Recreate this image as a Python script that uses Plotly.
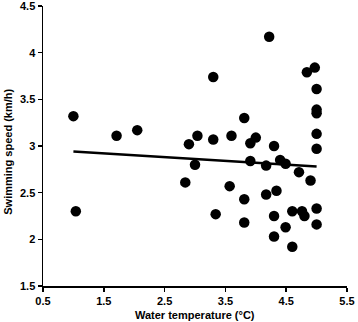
import plotly.graph_objects as go

# Observed data (water temperature °C, swimming speed km/h)
temperature = [1.00, 1.04, 1.71, 2.05, 2.84, 2.90, 3.04, 3.00, 3.30, 3.30, 3.34,
               3.57, 3.60, 3.81, 3.81, 3.81, 3.91, 3.91, 4.00, 4.17, 4.17, 4.22,
               4.30, 4.34, 4.30, 4.30, 4.40, 4.49, 4.49, 4.60, 4.60, 4.71, 4.76,
               4.80, 4.90, 4.84, 4.97, 5.00, 5.00, 5.00, 5.00, 5.00, 5.00, 5.00]
speed = [3.32, 2.30, 3.11, 3.17, 2.61, 3.02, 3.11, 2.80, 3.74, 3.07, 2.27,
         2.57, 3.11, 3.30, 2.43, 2.18, 2.84, 3.03, 3.09, 2.79, 2.48, 4.17,
         3.00, 2.52, 2.25, 2.03, 2.85, 2.81, 2.13, 2.30, 1.92, 2.72, 2.30,
         2.25, 2.63, 3.79, 3.84, 3.61, 3.39, 3.35, 3.13, 2.97, 2.33, 2.16]

# Linear trend line endpoints
trend_x = [1.0, 5.0]
trend_y = [2.94, 2.78]

x_ticks = [0.5, 1.5, 2.5, 3.5, 4.5, 5.5]
x_tick_labels = ["0.5", "1.5", "2.5", "3.5", "4.5", "5.5"]
y_ticks = [1.5, 2.0, 2.5, 3.0, 3.5, 4.0, 4.5]
y_tick_labels = ["1.5", "2", "2.5", "3", "3.5", "4", "4.5"]
x_title = "Water temperature (°C)"
y_title = "Swimming speed (km/h)"

FONT = "Liberation Sans, Arial, sans-serif"

fig = go.Figure()
fig.add_trace(go.Scatter(
    x=temperature, y=speed, mode="markers",
    marker=dict(size=10.5, color="black", line=dict(width=0)),
    showlegend=False, cliponaxis=False,
))
fig.add_trace(go.Scatter(
    x=trend_x, y=trend_y, mode="lines",
    line=dict(color="black", width=2.5),
    showlegend=False,
))

axis_common = dict(
    showgrid=False, zeroline=False, showline=True, linecolor="black", linewidth=1.5,
    ticks="outside", ticklen=4, tickwidth=1.5, tickcolor="black",
    tickfont=dict(family=FONT, size=11, color="black"),
    ticklabeloverflow="allow",
    automargin=False,
)

fig.update_layout(
    width=358, height=322,
    margin=dict(l=43, r=11, t=6, b=36, autoexpand=False),
    paper_bgcolor="white", plot_bgcolor="white",
    font=dict(family=FONT, size=11, color="black"),
    xaxis=dict(range=[0.5, 5.5], tickvals=x_ticks,
               ticktext=[f"<b>{t}</b>" for t in x_tick_labels], **axis_common),
    yaxis=dict(range=[1.5, 4.5], tickvals=y_ticks,
               ticktext=[f"<b>{t}</b>" for t in y_tick_labels], **axis_common),
    annotations=[
        dict(text=f"<b>{x_title}</b>", xref="paper", yref="paper", x=0.5, y=-0.105,
             xanchor="center", yanchor="middle", showarrow=False,
             font=dict(family=FONT, size=11, color="black")),
        dict(text=f"<b>{y_title}</b>", xref="paper", yref="paper", x=-0.118, y=0.48,
             xanchor="center", yanchor="middle", textangle=-90, showarrow=False,
             font=dict(family=FONT, size=11, color="black")),
    ],
)

fig.write_html("out.html",
               config={"displayModeBar": False, "staticPlot": True},
               post_script="document.body.style.margin='0';document.body.style.overflow='hidden';")
